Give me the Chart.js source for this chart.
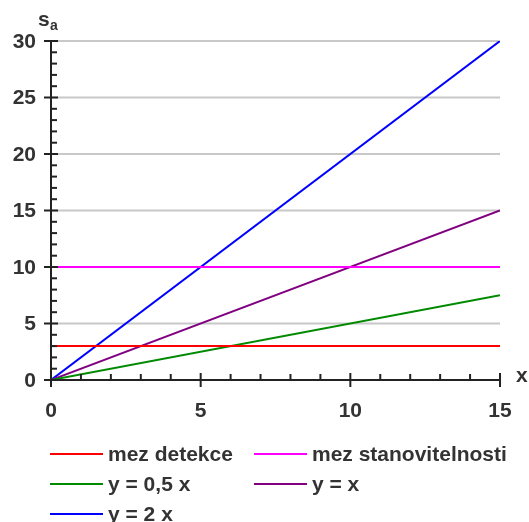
<!DOCTYPE html>
<html lang="cs">
<head>
    <meta charset="UTF-8">
    <title>Graf</title>
    <script src="https://cdn.jsdelivr.net/npm/chart.js@4.4.0/dist/chart.umd.min.js"></script>
    <style>
        html, body { margin: 0; padding: 0; background: #fff; }
        #wrap { width: 529px; height: 522px; }
    </style>
</head>
<body>
    <div id="wrap"><canvas id="graf"></canvas></div>

    <script>
        // hodnoty grafu
        const xValues = [0, 15];
        const mezDetekce = [3, 3];
        const mezStanovitelnosti = [10, 10];
        const yHalf = [0, 7.5];
        const yOne = [0, 15];
        const yTwo = [0, 30];

        const seriesLabels = ['mez detekce', 'mez stanovitelnosti', 'y = 0,5 x', 'y = x', 'y = 2 x'];
        const seriesColors = ['#ff0000', '#ff00ff', '#008a00', '#800080', '#0000ff'];
        const seriesValues = [mezDetekce, mezStanovitelnosti, yHalf, yOne, yTwo];

        const xTicks = [0, 5, 10, 15];
        const yTicks = [0, 5, 10, 15, 20, 25, 30];
        const minorStep = 1;

        const font = 'bold 21px "Liberation Sans", Arial, sans-serif';
        const textColor = '#333';

        const axesPlugin = {
            id: 'axesPlugin',
            beforeDatasetsDraw(chart) {
                const ctx = chart.ctx;
                const x = chart.scales.x, y = chart.scales.y;
                ctx.save();
                ctx.strokeStyle = '#c8c8c8';
                ctx.lineWidth = 2;
                yTicks.forEach(v => {
                    if (v === 0) return;
                    const py = y.getPixelForValue(v);
                    ctx.beginPath();
                    ctx.moveTo(x.getPixelForValue(0), py);
                    ctx.lineTo(x.getPixelForValue(15), py);
                    ctx.stroke();
                });
                ctx.restore();
            },
            afterDatasetsDraw(chart) {
                const ctx = chart.ctx;
                const x = chart.scales.x, y = chart.scales.y;
                const x0 = x.getPixelForValue(0), y0 = y.getPixelForValue(0);
                ctx.save();
                ctx.strokeStyle = '#222';
                ctx.lineWidth = 2;
                // osy
                ctx.beginPath();
                ctx.moveTo(x0, y.getPixelForValue(30));
                ctx.lineTo(x0, y0);
                ctx.lineTo(x.getPixelForValue(15), y0);
                ctx.stroke();
                // dilky na ose y
                for (let v = 0; v <= 30; v += minorStep) {
                    const py = y.getPixelForValue(v);
                    ctx.beginPath();
                    if (v % 5 === 0) { ctx.moveTo(x0 - 7, py); ctx.lineTo(x0 + 7, py); }
                    else { ctx.moveTo(x0, py); ctx.lineTo(x0 + 6, py); }
                    ctx.stroke();
                }
                // dilky na ose x
                for (let v = 0; v <= 15; v += minorStep) {
                    const px = x.getPixelForValue(v);
                    ctx.beginPath();
                    if (v % 5 === 0) { ctx.moveTo(px, y0 - 7); ctx.lineTo(px, y0 + 7); }
                    else { ctx.moveTo(px, y0); ctx.lineTo(px, y0 - 6); }
                    ctx.stroke();
                }
                ctx.fillStyle = textColor;
                ctx.font = font;
                ctx.textAlign = 'right';
                ctx.textBaseline = 'middle';
                yTicks.forEach(v => ctx.fillText(String(v), x0 - 15, y.getPixelForValue(v) + 1));
                ctx.textAlign = 'center';
                xTicks.forEach(v => ctx.fillText(String(v), x.getPixelForValue(v), y0 + 31));
                // popisky os
                ctx.textAlign = 'left';
                ctx.fillText('x', x.getPixelForValue(15) + 16, y0 - 4);
                ctx.fillText('s', 38, 20);
                ctx.font = 'bold 14px "Liberation Sans", Arial, sans-serif';
                ctx.fillText('a', 50, 26);
                // legenda
                ctx.font = font;
                const cols = [50, 254];
                const rows = [454, 484, 514];
                chart.data.datasets.forEach((ds, i) => {
                    const lx = cols[i % 2], ly = rows[Math.floor(i / 2)];
                    ctx.strokeStyle = ds.borderColor;
                    ctx.lineWidth = 2;
                    ctx.beginPath();
                    ctx.moveTo(lx, ly);
                    ctx.lineTo(lx + 53, ly);
                    ctx.stroke();
                    ctx.fillStyle = textColor;
                    ctx.fillText(ds.label, lx + 58, ly + 1);
                });
                ctx.restore();
            }
        };

        new Chart(document.getElementById('graf'), {
            type: 'line',
            data: {
                datasets: seriesLabels.map((label, i) => ({
                    label: label,
                    data: xValues.map((xv, j) => ({ x: xv, y: seriesValues[i][j] })),
                    borderColor: seriesColors[i],
                    borderWidth: 2,
                    pointRadius: 0,
                    fill: false,
                    tension: 0
                }))
            },
            options: {
                responsive: true,
                maintainAspectRatio: false,
                animation: false,
                layout: { padding: { left: 51, top: 41, right: 29, bottom: 142 } },
                plugins: {
                    legend: { display: false },
                    tooltip: { enabled: false }
                },
                scales: {
                    x: { type: 'linear', min: 0, max: 15, display: false },
                    y: { type: 'linear', min: 0, max: 30, display: false }
                }
            },
            plugins: [axesPlugin]
        });
    </script>
</body>
</html>
